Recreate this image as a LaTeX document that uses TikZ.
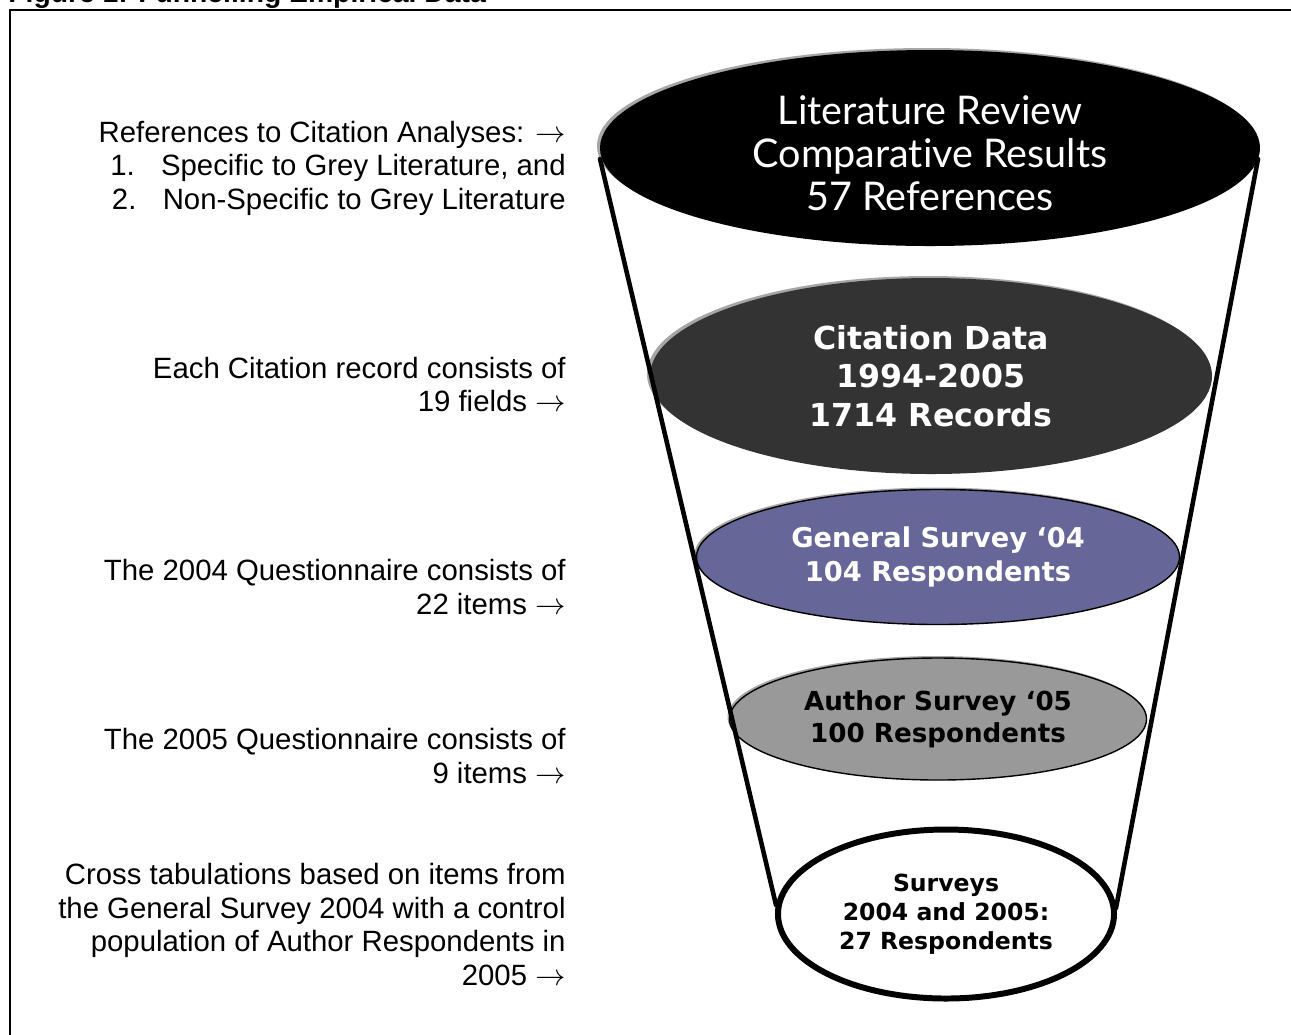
\documentclass[tikz,border=0pt]{standalone}
\usepackage{fontspec}
\setmainfont{Liberation Sans}
\newfontfamily\lightfont{Lato}[Ligatures=NoCommon]
\newfontfamily\djv{DejaVu Sans}
\usetikzlibrary{shapes.geometric}
\definecolor{citegray}{HTML}{333333}
\definecolor{genpurple}{HTML}{666699}
\definecolor{authgray}{HTML}{999999}
\newcommand{\rarr}{\ensuremath{\rightarrow}}
\tikzset{
  side/.style={anchor=base east, align=right, inner sep=0pt,
    font=\fontsize{16.7}{19.06}\selectfont},
  oval/.style={ellipse, inner sep=0pt, align=center},
  shadowoval/.style={ellipse, inner sep=0pt, fill=gray!70},
  funnel/.style={line width=2.6pt, line cap=round},
}
\begin{document}
\begin{tikzpicture}[x=0.2mm,y=-0.2mm]
\useasboundingbox (0,0) rectangle (1291,1034);
% title (cut off at top) and frame
\node[anchor=base west, inner sep=0pt, font=\fontsize{16.1}{19}\selectfont\bfseries] (title) at (8,2) {Figure 1: Funnelling Empirical Data};
\draw[line width=0.9pt] (10,1040) -- (10,10) -- (1300,10);

% shadows
\node[shadowoval, minimum width=132mm, minimum height=39.2mm] at (927,146) {};
\node[shadowoval, minimum width=112.4mm, minimum height=39.2mm] at (928,374) {};
\node[shadowoval, minimum width=96.6mm, minimum height=27mm] at (936,555) {};
\node[shadowoval, minimum width=83.4mm, minimum height=24.4mm] at (936,717) {};
\node[shadowoval, minimum width=67.2mm, minimum height=33.8mm] at (943,913) {};

% ellipses
\node[oval, fill=black, minimum width=132mm, minimum height=39.2mm] (lit) at (930,148) {};
\node[text=white, align=center, inner sep=0pt, font=\lightfont\fontsize{22.5}{24.5}\selectfont] (littext) at (930,153)
  {Literature Review\\Comparative Results\\57 References};
\node[oval, fill=citegray, text=white, minimum width=112.4mm, minimum height=39.2mm,
  font=\djv\bfseries\fontsize{18}{21.9}\selectfont] (cite) at (931,376)
  {Citation Data\\1994-2005\\1714 Records};
\node[oval, draw=black, line width=0.8pt, fill=genpurple, text=white, minimum width=96.6mm, minimum height=27mm,
  font=\djv\bfseries\fontsize{15.5}{19.4}\selectfont] (gen) at (938,557)
  {General Survey ‘04\\104 Respondents};
\node[oval, draw=black, line width=0.8pt, fill=authgray, text=black, minimum width=83.4mm, minimum height=24.4mm,
  font=\djv\bfseries\fontsize{14.9}{18.2}\selectfont] (auth) at (938,719)
  {Author Survey ‘05\\100 Respondents};
\node[oval, draw=black, line width=3.4pt, fill=white, text=black, minimum width=67.2mm, minimum height=33.8mm,
  font=\djv\bfseries\fontsize{13.4}{16.5}\selectfont] (both) at (946,914)
  {Surveys\\2004 and 2005:\\27 Respondents};

% funnel sides
\coordinate (ltop) at (600,159);
\coordinate (lbot) at (776,905);
\coordinate (rtop) at (1258,159);
\coordinate (rbot) at (1116,908);
\draw[funnel] (ltop) -- (lbot);
\draw[funnel] (rtop) -- (rbot);

% side texts
\node[side] (t1) at (566,209) {References to Citation Analyses: \rarr\\1.\hspace{15pt}Specific to Grey Literature, and\\2.\hspace{15pt}Non-Specific to Grey Literature};
\node[side] (t2) at (566,411.5) {Each Citation record consists of\\19 fields \rarr};
\node[side] (t3) at (566,614) {The 2004 Questionnaire consists of\\22 items \rarr};
\node[side] (t4) at (566,783) {The 2005 Questionnaire consists of\\9 items \rarr};
\node[side] (t5) at (566,985) {Cross tabulations based on items from\\the General Survey 2004 with a control\\population of Author Respondents in\\2005 \rarr};
\end{tikzpicture}
\end{document}
